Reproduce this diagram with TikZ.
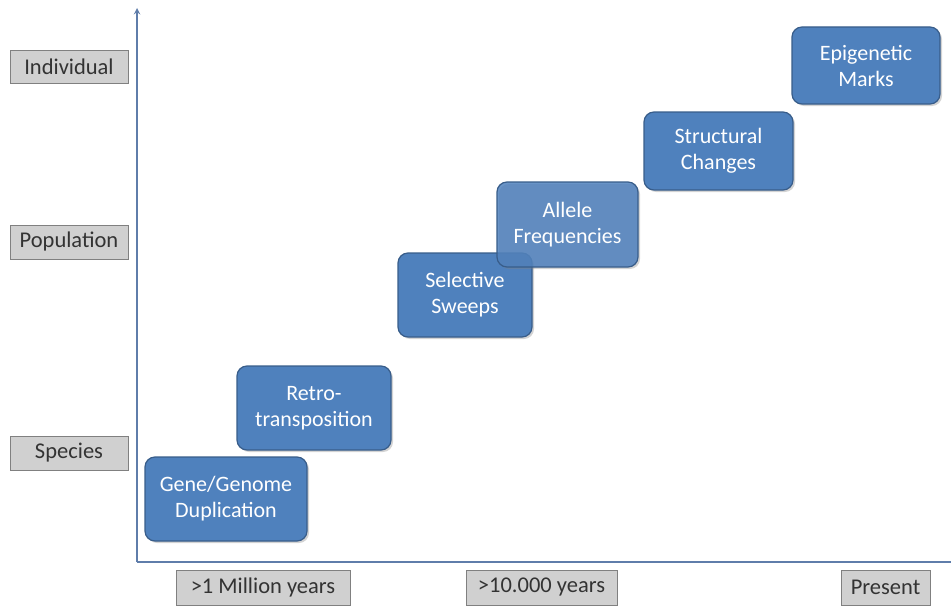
\documentclass[tikz,border=0pt]{standalone}
\usepackage{fontspec}
\setmainfont{Carlito}
\usepackage{xcolor}
\usepackage{tikz}
\usetikzlibrary{arrows, shadows}
\definecolor{boxblue}{RGB}{79,129,189}
\definecolor{boxedge}{RGB}{56,93,138}
\definecolor{axisblue}{RGB}{95,125,170}
\definecolor{labelgray}{RGB}{208,208,208}
\tikzstyle{arrow}     = [line width=1.8pt,->,>=stealth, draw=axisblue]
\tikzstyle{level}     = [rectangle, draw=gray, fill=labelgray, text=black!80, font=\fontsize{22.5}{26}\selectfont, inner sep=0pt]
\tikzstyle{event}     = [rectangle, draw=boxedge, line width=1.2pt, fill=boxblue, text=white, rounded corners=10pt, font=\fontsize{22}{26}\selectfont, inner sep=0pt, drop shadow={opacity=0.35, shadow xshift=2pt, shadow yshift=-2pt}]
\tikzset{every node/.style={align=center}}

\begin{document}
\begin{tikzpicture}[x=1pt, y=-1pt]
    \useasboundingbox (0, 0) rectangle (951, 610);

    % axes
    \coordinate (origin) at (137, 562);
    \coordinate (ytop)   at (137, 8);
    \coordinate (xend)   at (951, 562);
    \draw [arrow] (origin) -- (ytop);
    \draw [line width=1.8pt, draw=axisblue] (origin) -- (xend);

    % levels on the vertical axis
    \node (individual) at (69, 66.5) [level, minimum width=118pt, minimum height=33pt] {Individual};
    \node (population) at (69, 242)  [level, minimum width=118pt, minimum height=34pt] {Population};
    \node (species)    at (69, 453)  [level, minimum width=118pt, minimum height=34pt] {Species};

    % time on the horizontal axis
    \node (million)    at (263, 587.5)   [level, minimum width=174pt, minimum height=35pt] {>1 Million years};
    \node (tenk)       at (541.5, 587.5) [level, minimum width=151pt, minimum height=35pt] {>10.000 years};
    \node (present)    at (885.5, 587.5) [level, minimum width=89pt,  minimum height=35pt] {Present};

    % events
    \node (gene)       at (226, 499)     [event, minimum width=162pt, minimum height=84pt] {Gene/Genome\\Duplication};
    \node (retro)      at (314, 408)     [event, minimum width=154pt, minimum height=84pt] {Retro-\\transposition};
    \node (selective)  at (465, 295)     [event, minimum width=134pt, minimum height=84pt] {Selective\\Sweeps};
    \node (allele)     at (567.5, 224.5) [event, minimum width=141pt, minimum height=85pt, fill opacity=0.85, text opacity=1] {Allele\\Frequencies};
    \node (structural) at (718.5, 151)   [event, minimum width=149pt, minimum height=78pt] {Structural\\Changes};
    \node (epigenetic) at (866, 65.5)    [event, minimum width=148pt, minimum height=77pt] {Epigenetic\\Marks};
\end{tikzpicture}
\end{document}
